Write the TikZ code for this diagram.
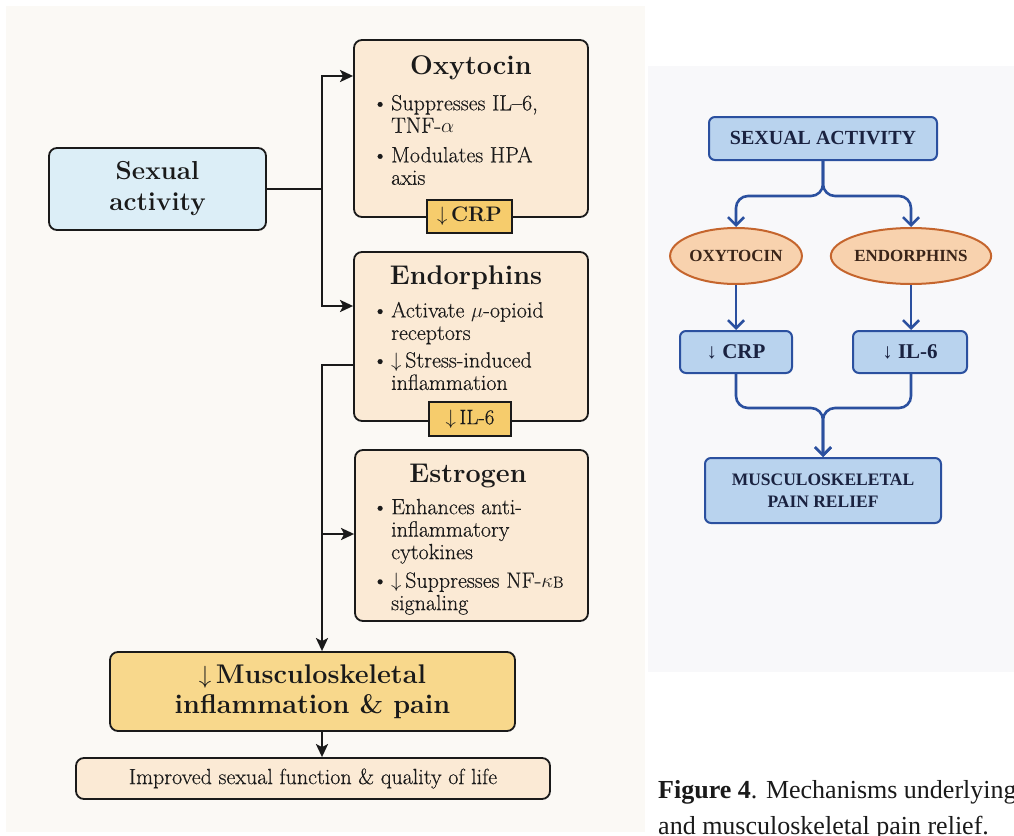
\documentclass[tikz,border=0pt]{standalone}
\usepackage{fontspec}
\newfontfamily\capfont{Liberation Serif}
\newfontfamily\bodyfont[FakeBold=0.35]{Latin Modern Roman}
\usetikzlibrary{arrows.meta,shapes.geometric}

\definecolor{ink}{HTML}{1A1A1A}
\definecolor{leftbg}{HTML}{FBF9F5}
\definecolor{rightbg}{HTML}{F8F8FA}
\definecolor{skyfill}{HTML}{DCEEF7}
\definecolor{peachfill}{HTML}{FBEAD5}
\definecolor{tagfill}{HTML}{F6CC6C}
\definecolor{goldfill}{HTML}{F8D88C}
\definecolor{bluefill}{HTML}{B9D3EE}
\definecolor{blueline}{HTML}{2B509F}
\definecolor{navy}{HTML}{1A2240}
\definecolor{ovalfill}{HTML}{F8D2AE}
\definecolor{ovalline}{HTML}{C5652D}
\definecolor{brown}{HTML}{3A2418}

\newcommand{\bul}{\makebox[19pt][l]{\textbullet}}
\newcommand{\ind}{\hspace*{19pt}}

\tikzset{
  box/.style={draw=ink, line width=1.8pt, rounded corners=8pt, inner sep=0pt},
  peach/.style={box, fill=peachfill},
  title/.style={anchor=base, text=ink, font=\bfseries\fontsize{27}{30}\selectfont},
  blist/.style={anchor=north west, inner sep=0pt, align=left, text=ink,
    font=\bodyfont\fontsize{22}{22.5}\selectfont},
  tagbox/.style={draw=ink, line width=1.5pt, fill=tagfill, inner sep=0pt, text=ink,
    font=\bodyfont\fontsize{21}{24}\selectfont},
  arr/.style={draw=ink, line width=2.4pt, -{Stealth[length=13pt,width=12pt,inset=3pt]}},
  line/.style={draw=ink, line width=2.4pt},
  bbox/.style={draw=blueline, line width=2pt, rounded corners=6pt, fill=bluefill,
    inner sep=0pt, text=navy, align=center, font=\capfont\bfseries\fontsize{20}{22}\selectfont},
  oval/.style={ellipse, draw=ovalline, line width=2pt, fill=ovalfill, inner sep=0pt,
    text=brown, font=\capfont\bfseries\fontsize{17}{20}\selectfont},
  barr/.style={draw=blueline, line width=2.6pt, rounded corners=12pt,
    -{Straight Barb[length=8pt,width=16pt,line width=2.6pt]}}
}

\begin{document}
\begin{tikzpicture}[x=1pt,y=-1pt]
  \useasboundingbox (0,0) rectangle (1014,835);
  \fill[white] (0,0) rectangle (1014,835);
  \fill[leftbg] (6,6) rectangle (645,832);
  \fill[rightbg] (648,66) rectangle (1014,672);

  % left panel
  \node[box, fill=skyfill, minimum width=217pt, minimum height=82pt, align=center, text=ink,
    font=\bfseries\fontsize{26}{31}\selectfont] (sex) at (157.5,189) {Sexual\\activity};

  \node[peach, minimum width=234pt, minimum height=177pt] (oxy) at (471,128.5) {};
  \node[title] (oxyT) at (471,74) {Oxytocin};
  \node[blist] (oxyL) at (372,94.7) {\bul Suppresses IL–6,\\\ind TNF-$\alpha$\\[7pt]\bul Modulates HPA\\\ind axis};
  \node[tagbox, minimum width=85pt, minimum height=33pt, font=\bfseries\fontsize{21}{24}\selectfont]
    (crp) at (469.5,216.5) {$\downarrow$\,CRP};

  \node[peach, minimum width=234pt, minimum height=169pt] (endo) at (471,336.5) {};
  \node[title] (endoT) at (466,284) {Endorphins};
  \node[blist] (endoL) at (372,301.7) {\bul Activate $\mu$-opioid\\\ind receptors\\[5pt]\bul $\downarrow$\,Stress-induced\\\ind inflammation};
  \node[tagbox, minimum width=82pt, minimum height=34pt] (ilsix) at (470,419) {$\downarrow$\,IL-6};

  \node[peach, minimum width=233pt, minimum height=171pt] (estr) at (471.5,535.5) {};
  \node[title] (estrT) at (468,482) {Estrogen};
  \node[blist] (estrL) at (372,498.7) {\bul Enhances anti-\\\ind inflammatory\\\ind cytokines\\[6pt]\bul $\downarrow$\,Suppresses NF-$\kappa${\fontsize{16}{16}\selectfont B}\\\ind signaling};

  \node[box, fill=goldfill, minimum width=405pt, minimum height=79pt, align=center, text=ink,
    font=\bfseries\fontsize{27}{30}\selectfont] (musc) at (312.5,691.5) {$\downarrow$\,Musculoskeletal\\inflammation \& pain};
  \node[peach, minimum width=474pt, minimum height=41pt, text=ink,
    font=\bodyfont\fontsize{22}{24}\selectfont] (life) at (313,778.5) {Improved sexual function \& quality of life};

  \coordinate (jA) at (322,189);
  \coordinate (jB) at (322,365);
  \draw[line] (sex.east) -- (jA);
  \draw[arr] (jA) |- (oxy.west |- 0,76);
  \draw[arr] (jA) |- (endo.west |- 0,306);
  \draw[arr] (endo.west |- jB) -- (jB) -- (322,0 |- musc.north);
  \draw[arr] (322,534) -- (estr.west |- 0,534);
  \draw[arr] (322,0 |- musc.south) -- (322,0 |- life.north);

  % right panel
  \node[bbox, minimum width=228pt, minimum height=43pt] (sa) at (823,138.5) {SEXUAL ACTIVITY};
  \node[oval, minimum width=131pt, minimum height=56pt] (oxyE) at (736,256) {OXYTOCIN};
  \node[oval, minimum width=133pt, minimum height=56pt] (endE) at (911,256) {ENDORPHINS};
  \node[bbox, minimum width=112pt, minimum height=42pt, font=\capfont\bfseries\fontsize{21}{24}\selectfont]
    (crpR) at (736,352) {↓ CRP};
  \node[bbox, minimum width=114pt, minimum height=42pt, font=\capfont\bfseries\fontsize{21}{24}\selectfont]
    (ilR) at (910,352) {↓ IL-6};
  \node[bbox, minimum width=236pt, minimum height=65pt, font=\capfont\bfseries\fontsize{17.5}{22}\selectfont]
    (relief) at (823,490.5) {MUSCULOSKELETAL\\PAIN RELIEF};

  \coordinate (sj) at (823,196);
  \coordinate (mj) at (823,408);
  \draw[barr] (sa.south) -- (sj) -| (oxyE.north);
  \draw[barr] (sa.south) -- (sj) -| (endE.north);
  \draw[barr] (oxyE.south) -- (oxyE.south |- crpR.north);
  \draw[barr] (endE.south) -- (endE.south |- ilR.north);
  \draw[barr] (crpR.south) |- (mj) -- (relief.north);
  \draw[barr] (ilR.south -| endE.south) |- (mj) -- (relief.north);

  % caption
  \node[anchor=base west, inner sep=0pt, text=ink, font=\capfont\fontsize{26}{35}\selectfont]
    (cap) at (658,798) {\textbf{Figure 4}. Mechanisms underlying};
  \node[anchor=base west, inner sep=0pt, text=ink, font=\capfont\fontsize{26}{35}\selectfont]
    (cap2) at (658,834) {and musculoskeletal pain relief.};
\end{tikzpicture}
\end{document}
